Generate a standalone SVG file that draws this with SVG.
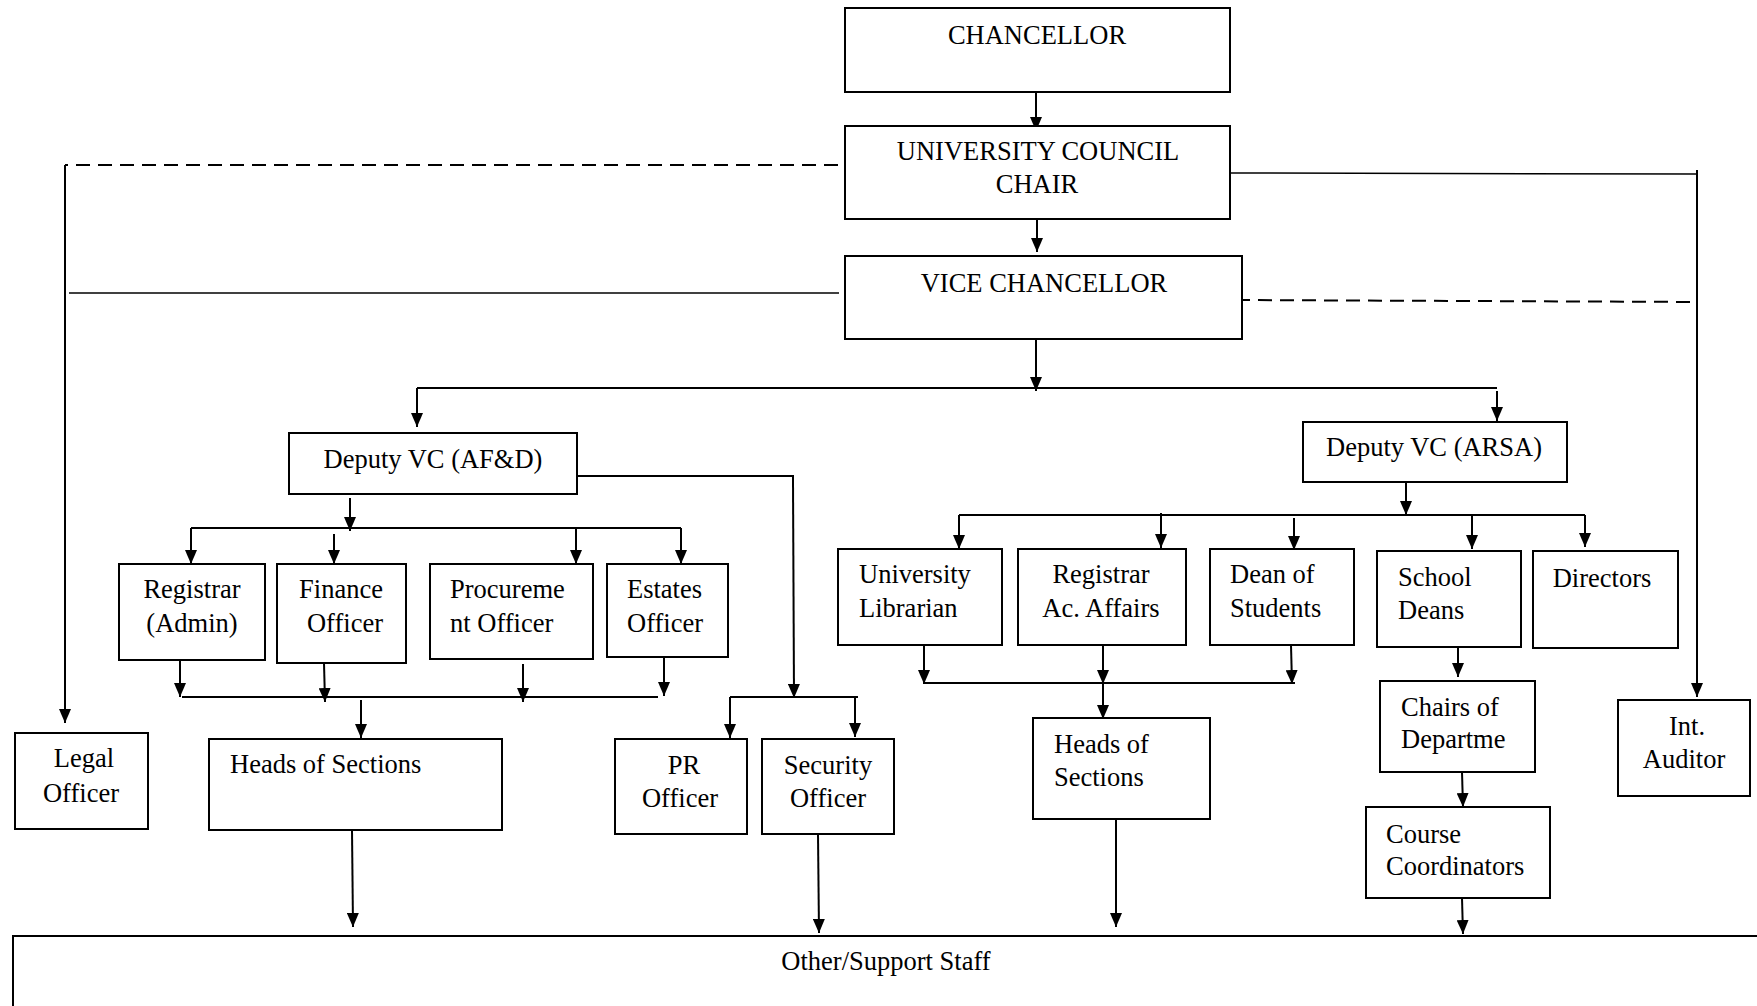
<svg xmlns="http://www.w3.org/2000/svg" width="1757" height="1006" viewBox="0 0 1757 1006">
<defs>
<marker id="ah" viewBox="0 0 14 12" refX="14" refY="6" markerWidth="14" markerHeight="12" markerUnits="userSpaceOnUse" orient="auto">
<path d="M0,0 L14,6 L0,12 z" fill="#000"/>
</marker>
<style>
.box{fill:#fff;stroke:#000;stroke-width:2}
.t{font-family:"Liberation Serif","Times New Roman",serif;font-size:26.5px;fill:#000}
.c{text-anchor:middle}
.ln{fill:none;stroke:#000;stroke-width:2}
.thin{fill:none;stroke:#000;stroke-width:1.5}
.dash{fill:none;stroke:#000;stroke-width:2;stroke-dasharray:14 8}
.ar{fill:none;stroke:#000;stroke-width:2;marker-end:url(#ah)}
</style>
</defs>
<rect width="1757" height="1006" fill="#fff"/>
<g id="connectors">
<line class="ar" x1="1036" y1="93" x2="1036" y2="131"/>
<line class="ar" x1="1037" y1="219" x2="1037" y2="252"/>
<polyline class="thin" points="1230,173 1697,174"/>
<line class="ln" x1="1697" y1="170" x2="1697" y2="640"/>
<line class="ar" x1="1697" y1="640" x2="1697" y2="697"/>
<line class="dash" x1="1236" y1="300" x2="1697" y2="302"/>
<line class="dash" x1="838" y1="165" x2="65" y2="165"/>
<line class="ar" x1="65" y1="165" x2="65" y2="723"/>
<line class="thin" x1="69" y1="293" x2="839" y2="293"/>
<line class="ar" x1="1036" y1="339" x2="1036" y2="391"/>
<line class="ln" x1="417" y1="388" x2="1497" y2="388"/>
<line class="ar" x1="417" y1="388" x2="417" y2="427"/>
<line class="ar" x1="1497" y1="391" x2="1497" y2="421"/>
<polyline class="ln" points="577,476 793,476 793,480"/>
<line class="ar" x1="793" y1="480" x2="794" y2="698"/>
<line class="ln" x1="730" y1="697" x2="858" y2="697"/>
<line class="ar" x1="730" y1="697" x2="730" y2="738"/>
<line class="ar" x1="855" y1="697" x2="855" y2="737"/>
<line class="ar" x1="350" y1="498" x2="350" y2="531"/>
<line class="ln" x1="191" y1="528" x2="681" y2="528"/>
<line class="ar" x1="191" y1="528" x2="191" y2="564"/>
<line class="ar" x1="334" y1="534" x2="334" y2="564"/>
<line class="ar" x1="576" y1="528" x2="576" y2="564"/>
<line class="ar" x1="681" y1="528" x2="681" y2="564"/>
<line class="ar" x1="180" y1="660" x2="180" y2="697"/>
<line class="ar" x1="324" y1="663" x2="325" y2="702"/>
<line class="ar" x1="523" y1="664" x2="523" y2="702"/>
<line class="ar" x1="664" y1="657" x2="664" y2="696"/>
<line class="ln" x1="182" y1="697" x2="658" y2="697"/>
<line class="ar" x1="361" y1="700" x2="361" y2="738"/>
<line class="ar" x1="352" y1="830" x2="353" y2="927"/>
<line class="ar" x1="818" y1="834" x2="819" y2="933"/>
<line class="ar" x1="1406" y1="482" x2="1406" y2="515"/>
<line class="ln" x1="959" y1="515" x2="1585" y2="515"/>
<line class="ar" x1="959" y1="515" x2="959" y2="549"/>
<line class="ar" x1="1161" y1="513" x2="1161" y2="548"/>
<line class="ar" x1="1294" y1="518" x2="1294" y2="550"/>
<line class="ar" x1="1472" y1="515" x2="1472" y2="549"/>
<line class="ar" x1="1585" y1="515" x2="1585" y2="547"/>
<line class="ar" x1="924" y1="645" x2="924" y2="684"/>
<line class="ar" x1="1103" y1="645" x2="1103" y2="684"/>
<line class="ar" x1="1291" y1="645" x2="1292" y2="684"/>
<line class="ln" x1="925" y1="683" x2="1295" y2="683"/>
<line class="ar" x1="1103" y1="683" x2="1103" y2="719"/>
<line class="ar" x1="1116" y1="819" x2="1116" y2="927"/>
<line class="ar" x1="1458" y1="647" x2="1458" y2="677"/>
<line class="ar" x1="1462" y1="772" x2="1463" y2="807"/>
<line class="ar" x1="1462" y1="898" x2="1463" y2="934"/>
</g>
<g id="chancellor"><rect class="box" x="845" y="8" width="385" height="84"/><text class="t c" x="1037" y="44">CHANCELLOR</text></g>
<g id="council"><rect class="box" x="845" y="126" width="385" height="93"/><text class="t c" x="1038" y="160">UNIVERSITY COUNCIL</text><text class="t c" x="1037" y="193">CHAIR</text></g>
<g id="vc"><rect class="box" x="845" y="256" width="397" height="83"/><text class="t c" x="1044" y="292">VICE CHANCELLOR</text></g>
<g id="dvc-afd"><rect class="box" x="289" y="433" width="288" height="61"/><text class="t c" x="433" y="468">Deputy VC (AF&amp;D)</text></g>
<g id="dvc-arsa"><rect class="box" x="1303" y="422" width="264" height="60"/><text class="t c" x="1434" y="456">Deputy VC (ARSA)</text></g>
<g id="registrar-admin"><rect class="box" x="119" y="564" width="146" height="96"/><text class="t c" x="192" y="598">Registrar</text><text class="t c" x="192" y="632">(Admin)</text></g>
<g id="finance"><rect class="box" x="277" y="564" width="129" height="99"/><text class="t c" x="341" y="598">Finance</text><text class="t c" x="345" y="632">Officer</text></g>
<g id="procurement"><rect class="box" x="430" y="564" width="163" height="95"/><text class="t" x="450" y="598">Procureme</text><text class="t" x="450" y="632">nt Officer</text></g>
<g id="estates"><rect class="box" x="607" y="564" width="121" height="93"/><text class="t" x="627" y="598">Estates</text><text class="t" x="627" y="632">Officer</text></g>
<g id="legal"><rect class="box" x="15" y="733" width="133" height="96"/><text class="t c" x="84" y="767">Legal</text><text class="t c" x="81" y="802">Officer</text></g>
<g id="heads-left"><rect class="box" x="209" y="739" width="293" height="91"/><text class="t" x="230" y="773">Heads of Sections</text></g>
<g id="pr"><rect class="box" x="615" y="739" width="132" height="95"/><text class="t c" x="684" y="774">PR</text><text class="t c" x="680" y="807">Officer</text></g>
<g id="security"><rect class="box" x="762" y="739" width="132" height="95"/><text class="t c" x="828" y="774">Security</text><text class="t c" x="828" y="807">Officer</text></g>
<g id="librarian"><rect class="box" x="838" y="549" width="164" height="96"/><text class="t" x="859" y="583">University</text><text class="t" x="859" y="617">Librarian</text></g>
<g id="registrar-ac"><rect class="box" x="1018" y="549" width="168" height="96"/><text class="t c" x="1101" y="583">Registrar</text><text class="t c" x="1101" y="617">Ac. Affairs</text></g>
<g id="dean-students"><rect class="box" x="1210" y="549" width="144" height="96"/><text class="t" x="1230" y="583">Dean of</text><text class="t" x="1230" y="617">Students</text></g>
<g id="school-deans"><rect class="box" x="1377" y="551" width="144" height="96"/><text class="t" x="1398" y="586">School</text><text class="t" x="1398" y="619">Deans</text></g>
<g id="directors"><rect class="box" x="1533" y="551" width="145" height="97"/><text class="t c" x="1602" y="587">Directors</text></g>
<g id="heads-right"><rect class="box" x="1033" y="718" width="177" height="101"/><text class="t" x="1054" y="753">Heads of</text><text class="t" x="1054" y="786">Sections</text></g>
<g id="chairs"><rect class="box" x="1380" y="681" width="155" height="91"/><text class="t" x="1401" y="716">Chairs of</text><text class="t" x="1401" y="748">Departme</text></g>
<g id="course"><rect class="box" x="1366" y="807" width="184" height="91"/><text class="t" x="1386" y="843">Course</text><text class="t" x="1386" y="875">Coordinators</text></g>
<g id="auditor"><rect class="box" x="1618" y="700" width="132" height="96"/><text class="t c" x="1687" y="735">Int.</text><text class="t c" x="1684" y="768">Auditor</text></g>
<g id="support-staff"><rect class="box" x="13" y="936" width="1760" height="100"/><text class="t c" x="886" y="970">Other/Support Staff</text></g>
</svg>
